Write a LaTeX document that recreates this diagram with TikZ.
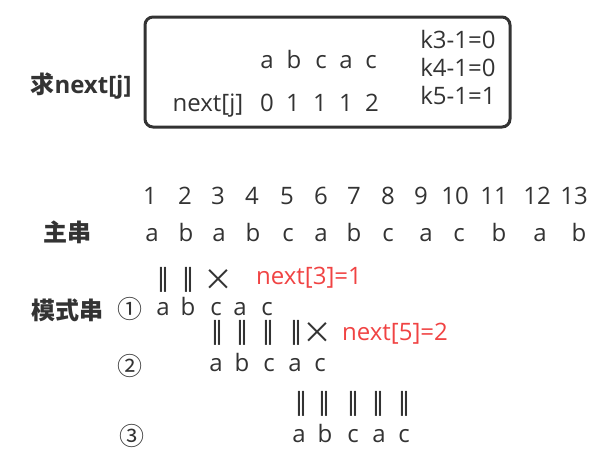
\documentclass[tikz,border=0pt]{standalone}
\usepackage{fontspec}
\usepackage{xcolor}
\setmainfont{Open Sans}
\newfontfamily\cjk{Noto Sans CJK SC}
\newfontfamily\sym{DejaVu Sans}
\definecolor{ink}{HTML}{333333}
\definecolor{hot}{HTML}{F04343}

\begin{document}
\begin{tikzpicture}[x=1pt,y=-1pt]
	\tikzstyle{txt} = [anchor=base, inner sep=0pt, text=ink, font=\fontsize{24}{28}\selectfont]
	\tikzstyle{hd} = [txt, font=\fontsize{24}{28}\selectfont\bfseries]
	\tikzstyle{mk} = [anchor=center, inner sep=0pt, text=ink, font=\fontsize{25}{28}\selectfont\sym]
	\tikzstyle{no} = [anchor=center, inner sep=0pt, text=ink, font=\fontsize{25}{28}\selectfont\cjk]
	\tikzstyle{cross} = [no, font=\fontsize{30}{32}\selectfont\cjk]
	\tikzstyle{miss} = [txt, text=hot]
	\useasboundingbox (0,0) rectangle (597,467);
	% next[j] table
	\draw [ink, line width=3pt, rounded corners=8pt] (145,17) rectangle (510,127);
		\node[hd] (ask) at (81,93) {{\cjk 求}next[j]};
		\node[txt] (t1) at (267,68) {a};
		\node[txt] (t2) at (294,68) {b};
		\node[txt] (t3) at (321,68) {c};
		\node[txt] (t4) at (346,68) {a};
		\node[txt] (t5) at (371,68) {c};
		\node[txt] (nj) at (208,111) {next[j]};
		\node[txt] (v1) at (267,111) {0};
		\node[txt] (v2) at (293,111) {1};
		\node[txt] (v3) at (320,111) {1};
		\node[txt] (v4) at (346,111) {1};
		\node[txt] (v5) at (372,111) {2};
		\node[txt] (k3) at (458,48)  {k3-1=0};
		\node[txt] (k4) at (458,76)  {k4-1=0};
		\node[txt] (k5) at (458,104) {k5-1=1};
	% main string
		\node[hd] (main) at (67,241) {\cjk 主串};
		\node[txt] (n1)  at (150,204) {1};
		\node[txt] (n2)  at (185,204) {2};
		\node[txt] (n3)  at (218,204) {3};
		\node[txt] (n4)  at (252,204) {4};
		\node[txt] (n5)  at (287,204) {5};
		\node[txt] (n6)  at (321,204) {6};
		\node[txt] (n7)  at (354,204) {7};
		\node[txt] (n8)  at (388,204) {8};
		\node[txt] (n9)  at (421,204) {9};
		\node[txt] (n10) at (455,204) {10};
		\node[txt] (n11) at (494,204) {11};
		\node[txt] (n12) at (537,204) {12};
		\node[txt] (n13) at (574,204) {13};
		\node[txt] (s1)  at (152,241) {a};
		\node[txt] (s2)  at (186,241) {b};
		\node[txt] (s3)  at (219,241) {a};
		\node[txt] (s4)  at (253,241) {b};
		\node[txt] (s5)  at (288,241) {c};
		\node[txt] (s6)  at (321,241) {a};
		\node[txt] (s7)  at (354,241) {b};
		\node[txt] (s8)  at (388,241) {c};
		\node[txt] (s9)  at (426,241) {a};
		\node[txt] (s10) at (459,241) {c};
		\node[txt] (s11) at (499,241) {b};
		\node[txt] (s12) at (540,241) {a};
		\node[txt] (s13) at (579,241) {b};
	% pattern, try 1
		\node[hd] (pat) at (67,319) {\cjk 模式串};
		\node[mk] (m1a) at (163,280) {‖};
		\node[mk] (m1b) at (188,280) {‖};
		\node[cross] (m1c) at (218,280) {×};
		\node[miss] (x1) at (309,284) {next[3]=1};
		\node[no] (c1) at (130,309) {①};
		\node[txt] (a1) at (163,315) {a};
		\node[txt] (b1) at (188,315) {b};
		\node[txt] (d1) at (216,315) {c};
		\node[txt] (e1) at (240,315) {a};
		\node[txt] (f1) at (267,315) {c};
	% pattern, try 2
		\node[mk] (m2a) at (217,333) {‖};
		\node[mk] (m2b) at (242,333) {‖};
		\node[mk] (m2c) at (268,333) {‖};
		\node[mk] (m2d) at (296,333) {‖};
		\node[cross] (m2e) at (317,333) {×};
		\node[miss] (x2) at (395,340) {next[5]=2};
		\node[no] (c2) at (130,366) {②};
		\node[txt] (a2) at (216,371) {a};
		\node[txt] (b2) at (242,371) {b};
		\node[txt] (d2) at (269,371) {c};
		\node[txt] (e2) at (295,371) {a};
		\node[txt] (f2) at (320,371) {c};
	% pattern, try 3
		\node[mk] (m3a) at (301,404) {‖};
		\node[mk] (m3b) at (324,404) {‖};
		\node[mk] (m3c) at (353,404) {‖};
		\node[mk] (m3d) at (378,404) {‖};
		\node[mk] (m3e) at (404,404) {‖};
		\node[no] (c3) at (132,436) {③};
		\node[txt] (a3) at (299,442) {a};
		\node[txt] (b3) at (325,442) {b};
		\node[txt] (d3) at (353,442) {c};
		\node[txt] (e3) at (379,442) {a};
		\node[txt] (f3) at (404,442) {c};
	\end{tikzpicture}
\end{document}
